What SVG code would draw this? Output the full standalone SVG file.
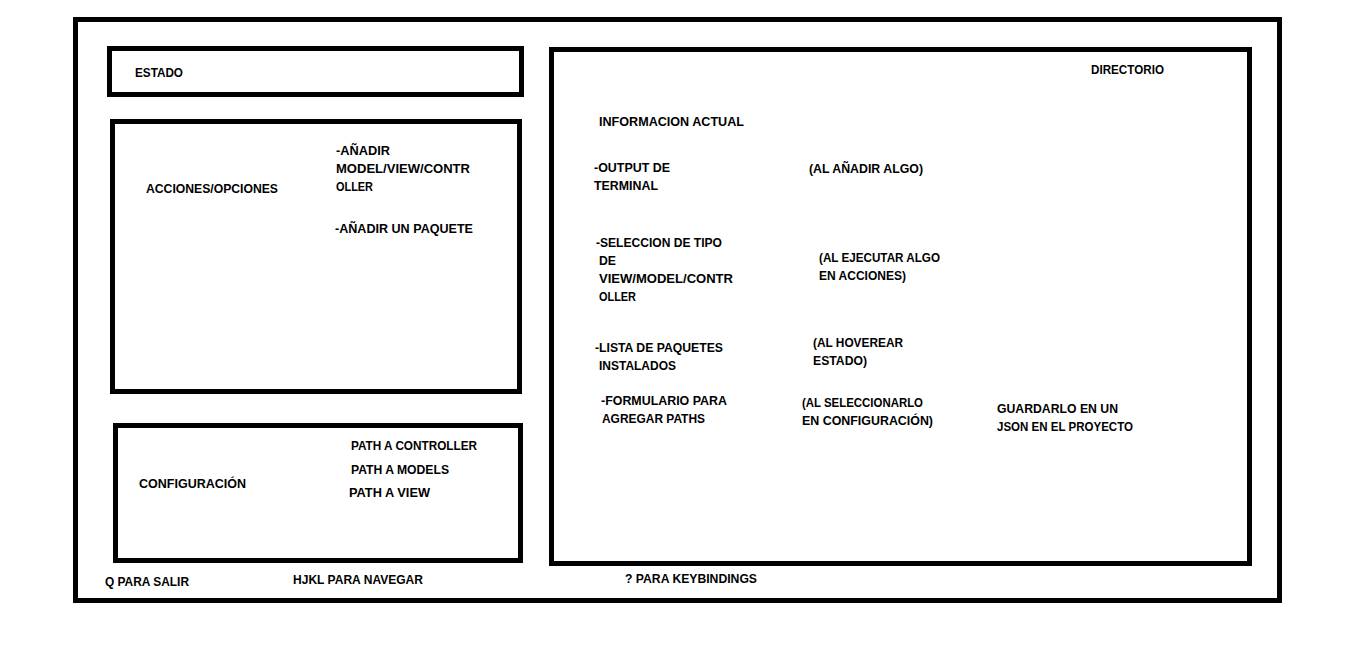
<svg xmlns="http://www.w3.org/2000/svg" width="1346" height="649" viewBox="0 0 1346 649">
<style>
.box{fill:none;stroke:#000;stroke-width:5}
text{font-family:"Liberation Sans",Arial,sans-serif;font-weight:bold;font-size:13px;fill:#000}
</style>
<rect width="1346" height="649" fill="#fff"/>
<g id="outer"><rect class="box" x="75.5" y="19.5" width="1204" height="581"/></g>
<g id="estado">
<rect class="box" x="109.5" y="48.5" width="412" height="46"/>
<text x="135" y="77" textLength="48" lengthAdjust="spacingAndGlyphs">ESTADO</text>
</g>
<g id="acciones">
<rect class="box" x="112.5" y="121.5" width="407" height="270"/>
<text x="146" y="193" textLength="132" lengthAdjust="spacingAndGlyphs">ACCIONES/OPCIONES</text>
<text x="336" y="155" textLength="54" lengthAdjust="spacingAndGlyphs">-AÑADIR</text>
<text x="336" y="173" textLength="134" lengthAdjust="spacingAndGlyphs">MODEL/VIEW/CONTR</text>
<text x="336" y="191" textLength="37" lengthAdjust="spacingAndGlyphs">OLLER</text>
<text x="335" y="233" textLength="138" lengthAdjust="spacingAndGlyphs">-AÑADIR UN PAQUETE</text>
</g>
<g id="configuracion">
<rect class="box" x="115.5" y="425.5" width="405" height="135"/>
<text x="139" y="488" textLength="107" lengthAdjust="spacingAndGlyphs">CONFIGURACIÓN</text>
<text x="351" y="450" textLength="126" lengthAdjust="spacingAndGlyphs">PATH A CONTROLLER</text>
<text x="351" y="474" textLength="98" lengthAdjust="spacingAndGlyphs">PATH A MODELS</text>
<text x="349" y="497" textLength="81" lengthAdjust="spacingAndGlyphs">PATH A VIEW</text>
</g>
<g id="directorio">
<rect class="box" x="551.5" y="49.5" width="698" height="514"/>
<text x="1091" y="74" textLength="73" lengthAdjust="spacingAndGlyphs">DIRECTORIO</text>
<text x="599" y="126" textLength="145" lengthAdjust="spacingAndGlyphs">INFORMACION ACTUAL</text>
<text x="594" y="172" textLength="76" lengthAdjust="spacingAndGlyphs">-OUTPUT DE</text>
<text x="594" y="190" textLength="64" lengthAdjust="spacingAndGlyphs">TERMINAL</text>
<text x="809" y="173" textLength="114" lengthAdjust="spacingAndGlyphs">(AL AÑADIR ALGO)</text>
<text x="596" y="247" textLength="126" lengthAdjust="spacingAndGlyphs">-SELECCION DE TIPO</text>
<text x="599" y="265" textLength="17" lengthAdjust="spacingAndGlyphs">DE</text>
<text x="599" y="283" textLength="134" lengthAdjust="spacingAndGlyphs">VIEW/MODEL/CONTR</text>
<text x="599" y="301" textLength="37" lengthAdjust="spacingAndGlyphs">OLLER</text>
<text x="819" y="262" textLength="121" lengthAdjust="spacingAndGlyphs">(AL EJECUTAR ALGO</text>
<text x="819" y="280" textLength="87" lengthAdjust="spacingAndGlyphs">EN ACCIONES)</text>
<text x="595" y="352" textLength="128" lengthAdjust="spacingAndGlyphs">-LISTA DE PAQUETES</text>
<text x="599" y="370" textLength="77" lengthAdjust="spacingAndGlyphs">INSTALADOS</text>
<text x="813" y="347" textLength="90" lengthAdjust="spacingAndGlyphs">(AL HOVEREAR</text>
<text x="813" y="365" textLength="54" lengthAdjust="spacingAndGlyphs">ESTADO)</text>
<text x="601" y="405" textLength="126" lengthAdjust="spacingAndGlyphs">-FORMULARIO PARA</text>
<text x="602" y="423" textLength="103" lengthAdjust="spacingAndGlyphs">AGREGAR PATHS</text>
<text x="802" y="407" textLength="121" lengthAdjust="spacingAndGlyphs">(AL SELECCIONARLO</text>
<text x="802" y="425" textLength="131" lengthAdjust="spacingAndGlyphs">EN CONFIGURACIÓN)</text>
<text x="997" y="413" textLength="121" lengthAdjust="spacingAndGlyphs">GUARDARLO EN UN</text>
<text x="997" y="431" textLength="136" lengthAdjust="spacingAndGlyphs">JSON EN EL PROYECTO</text>
</g>
<g id="footer">
<text x="105" y="586" textLength="84" lengthAdjust="spacingAndGlyphs">Q PARA SALIR</text>
<text x="293" y="584" textLength="130" lengthAdjust="spacingAndGlyphs">HJKL PARA NAVEGAR</text>
<text x="625" y="583" textLength="132" lengthAdjust="spacingAndGlyphs">? PARA KEYBINDINGS</text>
</g>
<g id="connectors"/>
</svg>
